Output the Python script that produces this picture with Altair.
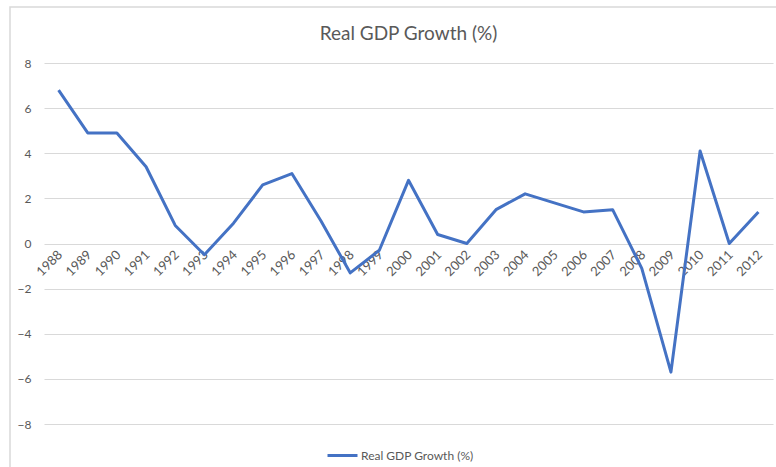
import altair as alt
import pandas as pd

years = [str(y) for y in range(1988, 2013)]
growth = [6.8, 4.9, 4.9, 3.4, 0.8, -0.5, 0.9, 2.6, 3.1, 1.0, -1.3, -0.3, 2.8,
          0.4, 0.0, 1.5, 2.2, 1.8, 1.4, 1.5, -1.1, -5.7, 4.1, 0.0, 1.4]
series_name = "Real GDP Growth (%)"
y_ticks = [-8, -6, -4, -2, 0, 2, 4, 6, 8]

df = pd.DataFrame({"Year": years, "Growth": growth, "Series": series_name})

FONT = "Lato"
GREY = "#595959"
W, H = 729, 361

line = alt.Chart(df).mark_line(strokeWidth=3, strokeJoin="round", clip=False).encode(
    x=alt.X("Year:N", sort=years,
            scale=alt.Scale(paddingInner=0, paddingOuter=0.5),
            axis=alt.Axis(title=None, labelAngle=-45, domain=False, ticks=False,
                          labelFont=FONT, labelFontSize=13, labelColor=GREY,
                          offset=-181, labelPadding=5, labelOffset=-3, grid=False)),
    y=alt.Y("Growth:Q", scale=alt.Scale(domain=[-8, 8], nice=False),
            axis=alt.Axis(title=None, values=y_ticks, domain=False, ticks=False,
                          labelFont=FONT, labelFontSize=12, labelColor=GREY,
                          labelPadding=13, gridColor="#D9D9D9", gridWidth=1)),
    color=alt.Color("Series:N", scale=alt.Scale(range=["#4472C4"]),
                    legend=alt.Legend(title=None, orient="none", legendX=282, legendY=376,
                                      symbolType="stroke", symbolSize=900,
                                      symbolStrokeWidth=3, labelFont=FONT,
                                      labelFontSize=12, labelColor=GREY,
                                      labelOffset=2)),
)

border = alt.Chart(pd.DataFrame({"a": [0]})).mark_rect(
    fill=None, stroke="#D9D9D9", strokeWidth=1.5, clip=False
).encode(x=alt.value(-34), x2=alt.value(W + 20), y=alt.value(-56), y2=alt.value(H + 60))

chart = alt.layer(border, line).properties(
    width=W, height=H,
    title=alt.TitleParams(series_name, font=FONT, fontSize=19, fontWeight="normal",
                          color=GREY, anchor="middle", offset=-38),
    padding={"left": 44, "top": 63, "right": 3, "bottom": 43},
    autosize=alt.AutoSizeParams(type="none"),
).configure_view(stroke=None)

chart.save("out.html", embed_options={"renderer": "svg", "actions": False})
